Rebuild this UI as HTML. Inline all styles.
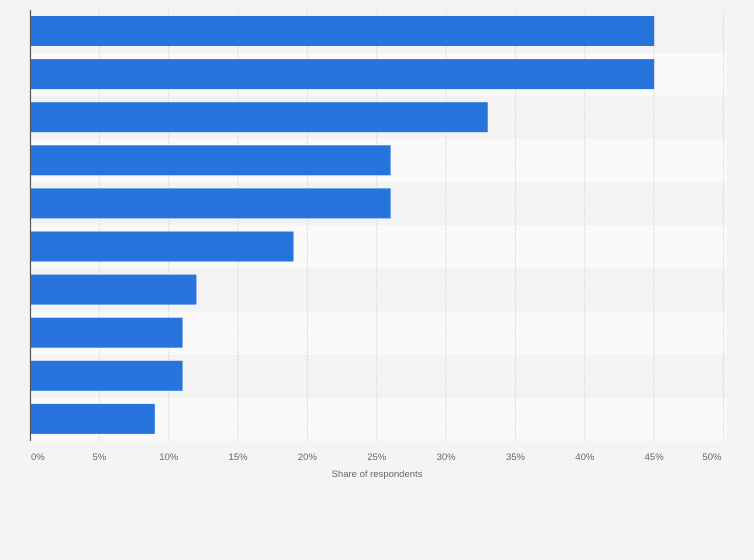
<!DOCTYPE html>
<html><head><meta charset="utf-8"><style>
body{margin:0;background:#f4f4f4;font-family:"Liberation Sans",sans-serif;}
svg{display:block}
</style></head><body>
<svg width="754" height="560" xmlns="http://www.w3.org/2000/svg" id="chart">
<rect x="0" y="0" width="754" height="560" fill="#f4f4f4"/>
<g id="bands"></g><g id="grid"></g><g id="bars"></g><g id="ticks"></g>
<line x1="30.5" y1="10" x2="30.5" y2="441" stroke="#555" stroke-width="1.2"/>
<text x="377" y="477" font-size="9.5" fill="#666" text-anchor="middle">Share of respondents</text>
</svg>
<script>
const categories=["Item 1","Item 2","Item 3","Item 4","Item 5","Item 6","Item 7","Item 8","Item 9","Item 10"];
const values=[45,45,33,26,26,19,12,11,11,9];
const tickValues=[0,5,10,15,20,25,30,35,40,45,50];
const tickLabels=["0%","5%","10%","15%","20%","25%","30%","35%","40%","45%","50%"];
const NS="http://www.w3.org/2000/svg";
const x0=30,x1=723.5,yTop=10,yBottom=441,maxV=50;
const xs=v=>x0+(x1-x0)*v/maxV;
const rowH=(yBottom-yTop)/categories.length;
const bandsG=document.getElementById('bands'),gridG=document.getElementById('grid'),barsG=document.getElementById('bars'),ticksG=document.getElementById('ticks');
function mk(t,a){const e=document.createElementNS(NS,t);for(const k in a)e.setAttribute(k,a[k]);return e;}
categories.forEach((c,i)=>{
  const b=mk('rect',{x:x0,y:yTop+i*rowH,width:x1+3-x0,height:rowH,fill:i%2?'#fafafa':'#f3f3f3'});
  
  
  bandsG.appendChild(b);
});
tickValues.forEach((v,i)=>{
  if(v>0){const g=mk('line',{x1:xs(v),x2:xs(v),y1:yTop,y2:yBottom,stroke:'#dcdcdc','stroke-width':1,'stroke-dasharray':'2,1'});
  
  
  gridG.appendChild(g);}
  const anchor=i==0?'start':(i==tickValues.length-1?'end':'middle');
  const tx=i==0?xs(v)+1:(i==tickValues.length-1?xs(v)-2:xs(v));
  const t=mk('text',{x:tx,y:460,'font-size':9.5,fill:'#666','text-anchor':anchor});
  t.textContent=tickLabels[i];
  
  
  ticksG.appendChild(t);
});
values.forEach((v,i)=>{
  const r=mk('rect',{x:x0,y:yTop+i*rowH+6,width:xs(v)-x0,height:30,fill:'#2775dc'});
  
  
  const tt=mk('title',{});tt.textContent=categories[i]+': '+v+'%';r.appendChild(tt);
  barsG.appendChild(r);
});
</script>
</body></html>
